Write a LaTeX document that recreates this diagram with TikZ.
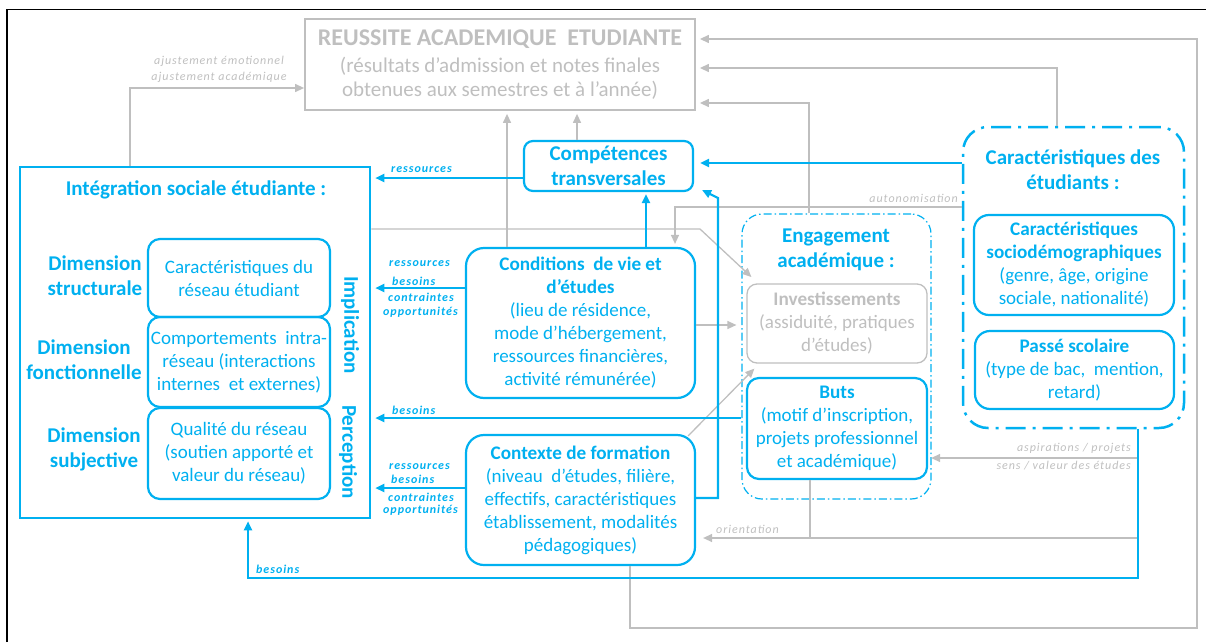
\documentclass[tikz,border=0pt]{standalone}
\usepackage{fontspec}
\setmainfont{Carlito}
\newfontfamily\lblfont{Carlito}[LetterSpace=8]
\usetikzlibrary{arrows.meta,calc}
\definecolor{cb}{HTML}{00B0F0}
\definecolor{cg}{HTML}{BFBFBF}
\newcommand\bodyf{\fontsize{19}{23}\selectfont}
\newcommand\titf{\fontsize{19.2}{23}\selectfont\bfseries}
\newcommand\bigtitf{\fontsize{21}{25}\selectfont\bfseries}
\newcommand\lblf{\lblfont\fontsize{12}{14}\selectfont\itshape}
\tikzset{
  bbox/.style={draw=cb, line width=2.2pt, rounded corners=12pt, align=center, text=cb, inner sep=0pt, font=\bodyf},
  gbox/.style={draw=cg, line width=1.8pt, align=center, text=cg, inner sep=0pt, font=\bodyf},
  ttl/.style={align=center, text=cb, font=\bigtitf, inner sep=0pt},
  barr/.style={draw=cb, line width=2.2pt, -{Triangle[length=9pt,width=8pt]}},
  garr/.style={draw=cg, line width=1.3pt, -{Triangle[length=9pt,width=8pt]}},
  gline/.style={draw=cg, line width=1.3pt},
  blbl/.style={text=cb, font=\lblf\bfseries, inner sep=0pt},
  glbl/.style={text=cg, font=\lblf, inner sep=0pt},
}
\begin{document}
\begin{tikzpicture}[x=1pt,y=-1pt]
\useasboundingbox (0,0) rectangle (1206,642);
% frame
\draw[black, line width=1.5pt] (7,642) -- (7,9.5) -- (1206,9.5);

% nodes
\node[gbox, minimum width=390pt, minimum height=91pt, font=\fontsize{21}{24}\selectfont] (reussite) at (500,64.5)
  {{\fontsize{24}{24}\selectfont\bfseries REUSSITE ACADEMIQUE\ \ ETUDIANTE}\\[3pt](résultats d’admission et notes finales\\obtenues aux semestres et à l’année)};
\node[bbox, rounded corners=9pt, minimum width=169pt, minimum height=50pt, font=\bigtitf] (comp) at (608.5,166) {Compétences\\transversales};

\node[draw=cb, line width=2.5pt, minimum width=350pt, minimum height=351pt, inner sep=0pt] (integ) at (195,342.5) {};
\node[ttl] (integt) at (196,190) {Intégration sociale étudiante :};
\node[ttl] (dim1) at (95,275.5) {Dimension\\structurale};
\node[ttl] (dim2) at (84,360) {Dimension\\fonctionnelle};
\node[ttl] (dim3) at (94,449.5) {Dimension\\subjective};
\node[bbox, minimum width=182pt, minimum height=78pt] (r1) at (239,278) {Caractéristiques du\\réseau étudiant};
\node[bbox, minimum width=182pt, minimum height=90pt] (r2) at (239,362) {Comportements\ \ intra-\\réseau (interactions\\internes\ \ et externes)};
\node[bbox, minimum width=182pt, minimum height=91pt] (r3) at (239,453.5) {Qualité du réseau\\(soutien apporté et\\valeur du réseau)};
\node[ttl, rotate=-90] (impl) at (350,325) {Implication};
\node[ttl, rotate=-90] (perc) at (348,452) {Perception};

\node[bbox, rounded corners=18pt, minimum width=229pt, minimum height=150pt] (cond) at (580.5,323)
  {{\titf Conditions\ \ de vie et}\\{\titf d’études}\\(lieu de résidence,\\mode d’hébergement,\\ressources financières,\\activité rémunérée)};
\node[bbox, rounded corners=18pt, minimum width=229pt, minimum height=130pt] (ctx) at (580.5,500)
  {{\titf Contexte de formation}\\(niveau\ \ d’études, filière,\\effectifs, caractéristiques\\établissement, modalités\\pédagogiques)};

\node[draw=cb, line width=1.2pt, dash pattern=on 8pt off 3pt on 1.5pt off 3pt, rounded corners=20pt, minimum width=189pt, minimum height=285pt, inner sep=0pt] (eng) at (836.5,356.5) {};
\node[ttl] (engt) at (836,250) {Engagement\\académique :};
\node[gbox, rounded corners=10pt, line width=1.3pt, minimum width=180pt, minimum height=79pt] (inv) at (837,323.5)
  {{\titf Investissements}\\(assiduité, pratiques\\d’études)};
\node[bbox, rounded corners=12pt, minimum width=180pt, minimum height=101pt] (buts) at (837,428.5)
  {{\titf Buts}\\(motif d’inscription,\\projets professionnel\\et académique)};

\node[draw=cb, line width=2.5pt, dash pattern=on 20pt off 7pt on 3pt off 7pt, rounded corners=25pt, minimum width=221pt, minimum height=301pt, inner sep=0pt] (carac) at (1073.5,277.5) {};
\node[ttl] (caract) at (1073,170) {Caractéristiques des\\étudiants :};
\node[bbox, rounded corners=15pt, minimum width=200pt, minimum height=100pt] (socio) at (1074,265)
  {{\titf Caractéristiques}\\{\titf sociodémographiques}\\(genre, âge, origine\\sociale, nationalité)};
\node[bbox, rounded corners=15pt, minimum width=199pt, minimum height=78pt] (passe) at (1074.5,370)
  {{\titf Passé scolaire}\\(type de bac,\ \ mention,\\retard)};

\coordinate (cdown) at (carac.south -| 1138,0);

% grey connectors
\draw[garr] (integ.north -| 130,0) |- (reussite.west |- 0,88);
\draw[garr, shorten >=4pt] (ctx.south -| 630,0) |- (1197,628) |- (reussite.east |- 0,39);
\draw[garr, shorten >=4pt] (carac.north -| 1057,0) |- (reussite.east |- 0,68);
\draw[garr, shorten >=4pt] (eng.north -| 809,0) |- (reussite.east |- 0,103);
\draw[garr, shorten >=3pt] (cond.north -| 507,0) -- (reussite.south -| 507,0);
\draw[garr, shorten >=3pt] (comp.north -| 577,0) -- (reussite.south -| 577,0);
\draw[garr] (integ.east |- 0,229) -- (700,229) -- ($(eng.west |- 0,277)+(10,0)$);
\draw[garr, shorten >=3pt] (carac.west |- 0,207) -| (cond.north -| 675,0);
\draw[garr, shorten >=5pt] (cond.east |- 0,325) -- (eng.west |- 0,325);
\draw[garr] ($(ctx.north east)+(-8,2)$) -- ($(inv.south west)+(8,5)$);
\draw[garr, shorten >=3pt] (cdown |- 0,458) -- (buts.east |- 0,458);
\draw[garr, shorten >=7pt] (cdown |- 0,538) -- (ctx.east |- 0,538);
\draw[gline] (buts.south -| 810,0) -- (810,538);

% blue connectors
\draw[barr, shorten >=6pt] (carac.west |- 0,163) -- (comp.east |- 0,163);
\draw[barr, shorten >=4pt] (comp.west |- 0,178) -- (integ.east |- 0,178);
\draw[barr, shorten >=2pt] (cond.north -| 646,0) -- (comp.south -| 646,0);
\draw[barr] (ctx.east |- 0,498) -| (718,198) -- ([xshift=8pt,yshift=2pt]comp.south east);
\draw[barr, shorten >=4pt] (cond.west |- 0,288) -- (integ.east |- 0,288);
\draw[barr, shorten >=4pt] (eng.west |- 0,418) -- (integ.east |- 0,418);
\draw[barr, shorten >=4pt] (ctx.west |- 0,488) -- (integ.east |- 0,488);
\draw[barr, shorten >=2pt] (cdown) |- (248,578) -- (integ.south -| 248,0);

% labels
\node[glbl] (la1) at (219,61) {ajustement émotionnel};
\node[glbl] (la2) at (219,77) {ajustement académique};
\node[glbl, anchor=east] (lauto) at (958,198) {autonomisation};
\node[glbl, anchor=east] (lasp1) at (1131,448) {aspirations / projets};
\node[glbl, anchor=east] (lasp2) at (1131,466) {sens / valeur des études};
\node[glbl, anchor=west] (lori) at (716,529) {orientation};

\node[blbl, anchor=west] (lr0) at (391,170) {ressources};
\node[blbl, anchor=west] (lc1) at (389,264) {ressources};
\node[blbl, anchor=west] (lc2) at (392,281) {besoins};
\node[blbl, anchor=west] (lc3) at (388,297) {contraintes};
\node[blbl, anchor=west] (lc4) at (383,312) {opportunités};
\node[blbl, anchor=west] (lb1) at (392,410) {besoins};
\node[blbl, anchor=west] (lx1) at (389,467) {ressources};
\node[blbl, anchor=west] (lx2) at (391,479) {besoins};
\node[blbl, anchor=west] (lx3) at (388,497) {contraintes};
\node[blbl, anchor=west] (lx4) at (383,510) {opportunités};
\node[blbl, anchor=west] (lb2) at (256,569) {besoins};
\end{tikzpicture}
\end{document}
